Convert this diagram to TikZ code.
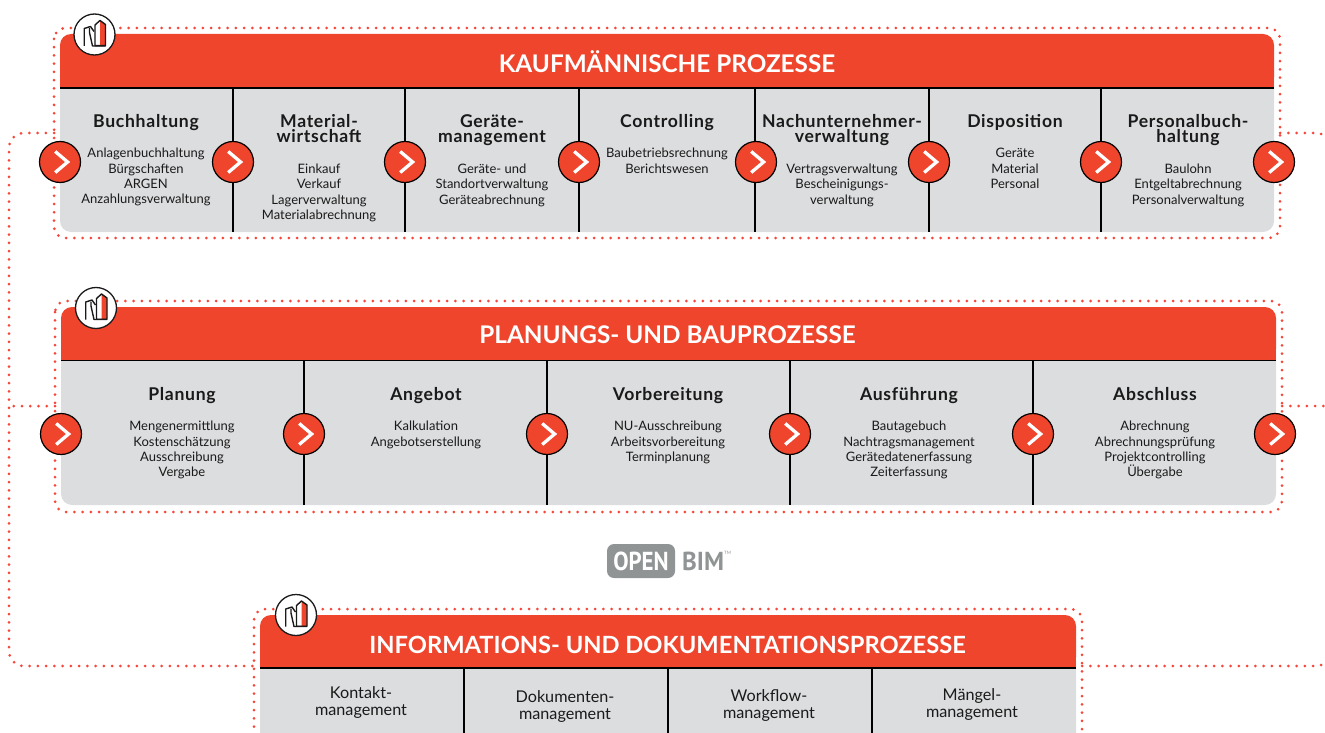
\documentclass[tikz,border=0pt]{standalone}
\usepackage{graphicx}
\usepackage{fontspec}
\setmainfont{Lato}
\newfontfamily\bimfont{PT Sans}
\definecolor{hdr}{HTML}{F0452D}
\definecolor{body}{HTML}{DCDDDF}
\definecolor{dotc}{HTML}{F5473A}
\definecolor{ink}{HTML}{1A1A1A}
\definecolor{bimgrey}{HTML}{909495}
\newcommand{\fhead}{\fontsize{24.3}{28}\bfseries\selectfont}
\newcommand{\fheadb}{\fontsize{23.7}{28}\bfseries\selectfont}
\newcommand{\ftitle}{\fontsize{17.6}{15}\bfseries\selectfont\addfontfeature{LetterSpace=4}\lineskiplimit=-100pt }
\newcommand{\fdesc}{\fontsize{13}{15.4}\selectfont}
\newcommand{\finfo}{\fontsize{16.2}{17}\selectfont\lineskiplimit=-100pt }
\tikzset{
  panelbody/.style={fill=body},
  panelhead/.style={fill=hdr},
  rule/.style={draw=black,line width=1.3pt},
  sep/.style={draw=black,line width=1.1pt},
  dotline/.style={draw=dotc,line width=3pt,line cap=round,dash pattern=on 0pt off 8.25pt,rounded corners=11pt},
  dotwire/.style={dotline,rounded corners=15pt},
  headtext/.style={text=white,font=\fhead,inner sep=0pt,anchor=center},
  titletext/.style={text=ink,font=\ftitle,align=center,inner sep=0pt,anchor=north},
  desctext/.style={text=ink,font=\fdesc,align=center,inner sep=0pt,anchor=north},
  infotext/.style={text=ink,font=\finfo,align=center,inner sep=0pt,anchor=center},
  flowdot/.style={circle,fill=hdr,draw=black,line width=1.2pt,minimum size=41pt,inner sep=0pt},
  chevron/.style={draw=white,line width=3.3pt,miter limit=10},
  iconring/.style={circle,fill=white,draw=ink,line width=1.3pt,minimum size=41pt,inner sep=0pt},
  iconline/.style={draw=ink,line width=1.4pt,line join=round},
}
% flow marker: name, x, y
\newcommand{\flowmark}[3]{%
  \node[flowdot] (#1) at (#2,#3) {};
  \draw[chevron] ([shift={(-4.8,-10.5)}]#1.center) -- ([shift={(7.6,0)}]#1.center) -- ([shift={(-4.8,10.5)}]#1.center);
}
% building icon: name, x, y
\newcommand{\buildicon}[3]{%
  \node[iconring] (#1) at (#2,#3) {};
  \begin{scope}[shift={(#1.center)}]
    \fill[white] (0.5,11.2) -- (0.5,-9.5) -- (5.5,-14) -- (5.5,11.2) -- cycle;
    \fill[hdr] (5.5,11.2) -- (5.5,-14) -- (11,-10) -- (11,11.2) -- cycle;
    \draw[iconline] (0.5,11.2) -- (0.5,-9.5) -- (5.5,-14) -- (11,-10) -- (11,11.2) -- cycle;
    \draw[iconline] (-10.3,11.5) -- (-10.3,-6) -- (-4,-8) -- (-0.5,-3);
    \draw[iconline] (-5,-6.5) -- (-5,-2) -- (-2,11.5) -- (11,11.5);
  \end{scope}
}
\begin{document}
\begin{tikzpicture}[x=1pt,y=-1pt]
\useasboundingbox (0,0) rectangle (1325,733);
\clip (0,0) rectangle (1325,733);

% wire coordinates
\coordinate (wTopL) at (54,133);
\coordinate (wTopLc) at (9,133);
\coordinate (wBotLc) at (9,666);
\coordinate (wBotL) at (254,666);
\coordinate (wMidL) at (55,406);
\coordinate (wMidLe) at (9,406);
\coordinate (wTopR) at (1280,133);
\coordinate (wTopRc) at (1331,133);
\coordinate (wTopRe) at (1331,200);
\coordinate (wMidR) at (1282,406);
\coordinate (wMidRe) at (1330,406);
\coordinate (wBotR) at (1082,666);
\coordinate (wBotRc) at (1331,666);
\coordinate (wBotRe) at (1331,600);

% outer wires
\draw[dotwire] (wTopL) -- (wTopLc) -- (wBotLc) -- (wBotL);
\draw[dotwire] (wMidL) -- (wMidLe);
\draw[dotwire] (wTopR) -- (wTopRc) -- (wTopRe);
\draw[dotwire] (wMidR) -- (wMidRe);
\draw[dotwire] (wBotR) -- (wBotRc) -- (wBotRe);

% ---------- panel 1
\draw[dotline] (54,28) rectangle (1280,238);
\fill[panelbody,rounded corners=11pt] (60,60) rectangle (1274,232);
\fill[panelbody] (60,88) rectangle (1274,110);
\fill[panelhead,rounded corners=11pt] (60,34) -- (1274,34) -- (1274,88) -- (60,88) -- cycle;
\fill[panelhead] (60,60) rectangle (1274,88);
\draw[rule] (60,88) -- (1274,88);
\foreach \x in {233,405,579,755,929,1101} \draw[sep] (\x,88) -- (\x,232);
\node[headtext] (h1) at (667,62) {KAUFMÄNNISCHE PROZESSE};
\node[titletext] (t11) at (146,114.3) {\strut Buchhaltung};
\node[desctext] (d11) at (146,146.7) {\strut Anlagenbuchhaltung\\Bürgschaften\\ARGEN\\Anzahlungsverwaltung};
\node[titletext] (t12) at (319,114.3) {\strut Material-\\wirtschaft};
\node[desctext] (d12) at (319,162.5) {\strut Einkauf\\Verkauf\\Lagerverwaltung\\Materialabrechnung};
\node[titletext] (t13) at (492,114.3) {\strut Geräte-\\management};
\node[desctext] (d13) at (492,162.5) {\strut Geräte- und\\Standortverwaltung\\Geräteabrechnung};
\node[titletext] (t14) at (667,114.3) {\strut Controlling};
\node[desctext] (d14) at (667,146.7) {\strut Baubetriebsrechnung\\Berichtswesen};
\node[titletext] (t15) at (842,114.3) {\strut Nachunternehmer-\\verwaltung};
\node[desctext] (d15) at (842,162.5) {\strut Vertragsverwaltung\\Bescheinigungs-\\verwaltung};
\node[titletext] (t16) at (1015,114.3) {\strut Disposition};
\node[desctext] (d16) at (1015,146.7) {\strut Geräte\\Material\\Personal};
\node[titletext] (t17) at (1188,114.3) {\strut Personalbuch-\\haltung};
\node[desctext] (d17) at (1188,162.5) {\strut Baulohn\\Entgeltabrechnung\\Personalverwaltung};
\flowmark{a0}{60}{162}
\flowmark{a1}{233}{162}
\flowmark{a2}{405}{162}
\flowmark{a3}{579}{162}
\flowmark{a4}{756}{162}
\flowmark{a5}{929}{162}
\flowmark{a6}{1101}{162}
\flowmark{a7}{1274}{162}
\buildicon{i1}{94.5}{34.5}

% ---------- panel 2
\draw[dotline] (55,301) rectangle (1282,512);
\fill[panelbody,rounded corners=11pt] (61,340) rectangle (1276,505);
\fill[panelbody] (61,360) rectangle (1276,385);
\fill[panelhead,rounded corners=11pt] (61,307) -- (1276,307) -- (1276,360) -- (61,360) -- cycle;
\fill[panelhead] (61,335) rectangle (1276,360);
\draw[rule] (61,360.5) -- (1276,360.5);
\foreach \x in {304,547,790,1033} \draw[sep] (\x,360) -- (\x,505);
\node[headtext] (h2) at (667.5,335) {PLANUNGS- UND BAUPROZESSE};
\node[titletext] (t21) at (182,387.3) {\strut Planung};
\node[desctext] (d21) at (182,419.7) {\strut Mengenermittlung\\Kostenschätzung\\Ausschreibung\\Vergabe};
\node[titletext] (t22) at (426,387.3) {\strut Angebot};
\node[desctext] (d22) at (426,419.7) {\strut Kalkulation\\Angebotserstellung};
\node[titletext] (t23) at (668,387.3) {\strut Vorbereitung};
\node[desctext] (d23) at (668,419.7) {\strut NU-Ausschreibung\\Arbeitsvorbereitung\\Terminplanung};
\node[titletext] (t24) at (909,387.3) {\strut Ausführung};
\node[desctext] (d24) at (909,419.7) {\strut Bautagebuch\\Nachtragsmanagement\\Gerätedatenerfassung\\Zeiterfassung};
\node[titletext] (t25) at (1155,387.3) {\strut Abschluss};
\node[desctext] (d25) at (1155,419.7) {\strut Abrechnung\\Abrechnungsprüfung\\Projektcontrolling\\Übergabe};
\flowmark{b0}{61}{434}
\flowmark{b1}{304}{434}
\flowmark{b2}{547}{434}
\flowmark{b3}{790}{434}
\flowmark{b4}{1033}{434}
\flowmark{b5}{1275}{434}
\buildicon{i2}{96}{308}

% ---------- OPEN BIM
\node[fill=bimgrey,rounded corners=7pt,minimum width=68pt,minimum height=34pt,inner sep=0pt,text=white] (open) at (641,561)
  {\bimfont\bfseries\fontsize{26}{26}\selectfont\scalebox{0.88}[1]{OPEN}};
\node[inner sep=0pt,text=bimgrey,anchor=west] (bim) at (682,561)
  {\bimfont\bfseries\fontsize{26}{26}\selectfont\scalebox{0.96}[1]{BIM}};
\node[inner sep=0pt,text=bimgrey,anchor=west] (tm) at (724,552.5) {\fontsize{4.5}{5}\selectfont TM};

% ---------- panel 3
\draw[dotline] (254,609) -- (1082,609) -- (1082,760) -- (254,760) -- cycle;
\fill[panelbody,rounded corners=11pt] (260,650) rectangle (1076,770);
\fill[panelbody] (260,668) rectangle (1076,690);
\fill[panelhead,rounded corners=11pt] (260,615) -- (1076,615) -- (1076,668) -- (260,668) -- cycle;
\fill[panelhead] (260,640) rectangle (1076,668);
\draw[rule] (260,668) -- (1076,668);
\foreach \x in {464,668,872} \draw[sep] (\x,668) -- (\x,740);
\node[headtext,font=\fheadb] (h3) at (667.5,645) {INFORMATIONS- UND DOKUMENTATIONSPROZESSE};
\node[infotext] (c1) at (361,703) {Kontakt-\\management};
\node[infotext] (c2) at (565,706.5) {Dokumenten-\\management};
\node[infotext] (c3) at (769,705.5) {Workflow-\\management};
\node[infotext] (c4) at (972,704.5) {Mängel-\\management};
\buildicon{i3}{296}{615}
\end{tikzpicture}
\end{document}
